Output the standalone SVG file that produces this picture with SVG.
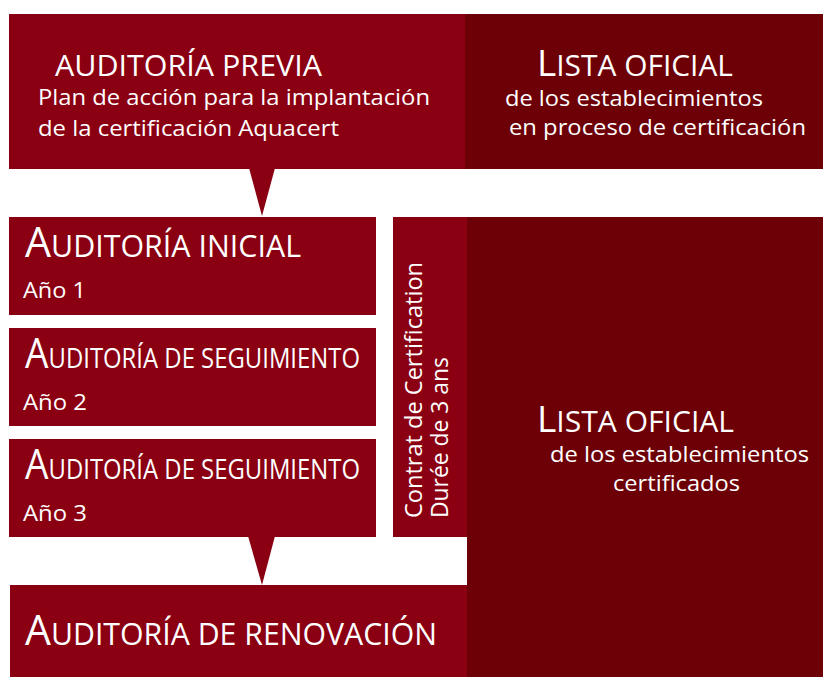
<svg xmlns="http://www.w3.org/2000/svg" width="823" height="677" viewBox="0 0 823 677">
<style>
.red{fill:#8a0012}
.dark{fill:#6c0006}
text{fill:#ffffff;font-family:"Open Sans","Noto Sans","DejaVu Sans",sans-serif}
</style>
<rect width="823" height="677" fill="#ffffff"/>
<g id="connectors">
<polygon class="red" points="249,168 275,168 262,216"/>
<polygon class="red" points="248,536 275,536 262,585"/>
</g>
<g id="previa">
<rect class="red" x="9" y="14" width="456" height="155"/>
<text x="55" y="76" font-size="30" textLength="267" lengthAdjust="spacingAndGlyphs">AUDITORÍA PREVIA</text>
<text x="38" y="105" font-size="22" textLength="392" lengthAdjust="spacingAndGlyphs">Plan de acción para la implantación</text>
<text x="38" y="136" font-size="22" textLength="301" lengthAdjust="spacingAndGlyphs">de la certificación Aquacert</text>
</g>
<g id="lista-proceso">
<rect class="dark" x="465" y="14" width="358" height="155"/>
<text x="537" y="76" textLength="196" lengthAdjust="spacingAndGlyphs"><tspan font-size="37">L</tspan><tspan font-size="30">ISTA OFICIAL</tspan></text>
<text x="505" y="106" font-size="22" textLength="258" lengthAdjust="spacingAndGlyphs">de los establecimientos</text>
<text x="509" y="135" font-size="22" textLength="297" lengthAdjust="spacingAndGlyphs">en proceso de certificación</text>
</g>
<g id="inicial">
<rect class="red" x="9" y="217" width="367" height="98"/>
<text x="25" y="257" textLength="276" lengthAdjust="spacingAndGlyphs"><tspan font-size="42">A</tspan><tspan font-size="31">UDITORÍA INICIAL</tspan></text>
<text x="23" y="298" font-size="22" textLength="63" lengthAdjust="spacingAndGlyphs">Año 1</text>
</g>
<g id="seguimiento1">
<rect class="red" x="9" y="328" width="367" height="98"/>
<text x="25" y="368" textLength="335" lengthAdjust="spacingAndGlyphs"><tspan font-size="42">A</tspan><tspan font-size="27">UDITORÍA DE SEGUIMIENTO</tspan></text>
<text x="23" y="410" font-size="22" textLength="64" lengthAdjust="spacingAndGlyphs">Año 2</text>
</g>
<g id="seguimiento2">
<rect class="red" x="9" y="439" width="367" height="98"/>
<text x="25" y="479" textLength="335" lengthAdjust="spacingAndGlyphs"><tspan font-size="42">A</tspan><tspan font-size="27">UDITORÍA DE SEGUIMIENTO</tspan></text>
<text x="23" y="521" font-size="22" textLength="64" lengthAdjust="spacingAndGlyphs">Año 3</text>
</g>
<g id="contrat">
<rect class="red" x="393" y="217" width="74" height="320"/>
<text transform="translate(422,518) rotate(-90)" font-size="24" textLength="256" lengthAdjust="spacingAndGlyphs">Contrat de Certification</text>
<text transform="translate(448,518) rotate(-90)" font-size="24" textLength="161" lengthAdjust="spacingAndGlyphs">Durée de 3 ans</text>
</g>
<g id="lista-certificados">
<rect class="dark" x="467" y="217" width="356" height="460"/>
<text x="537" y="432" textLength="197" lengthAdjust="spacingAndGlyphs"><tspan font-size="37">L</tspan><tspan font-size="30">ISTA OFICIAL</tspan></text>
<text x="550" y="462" font-size="22" textLength="259" lengthAdjust="spacingAndGlyphs">de los establecimientos</text>
<text x="613" y="491" font-size="22" textLength="127" lengthAdjust="spacingAndGlyphs">certificados</text>
</g>
<g id="renovacion">
<rect class="red" x="10" y="585" width="457" height="92"/>
<text x="25" y="645" textLength="412" lengthAdjust="spacingAndGlyphs"><tspan font-size="42">A</tspan><tspan font-size="31">UDITORÍA DE RENOVACIÓN</tspan></text>
</g>
</svg>
